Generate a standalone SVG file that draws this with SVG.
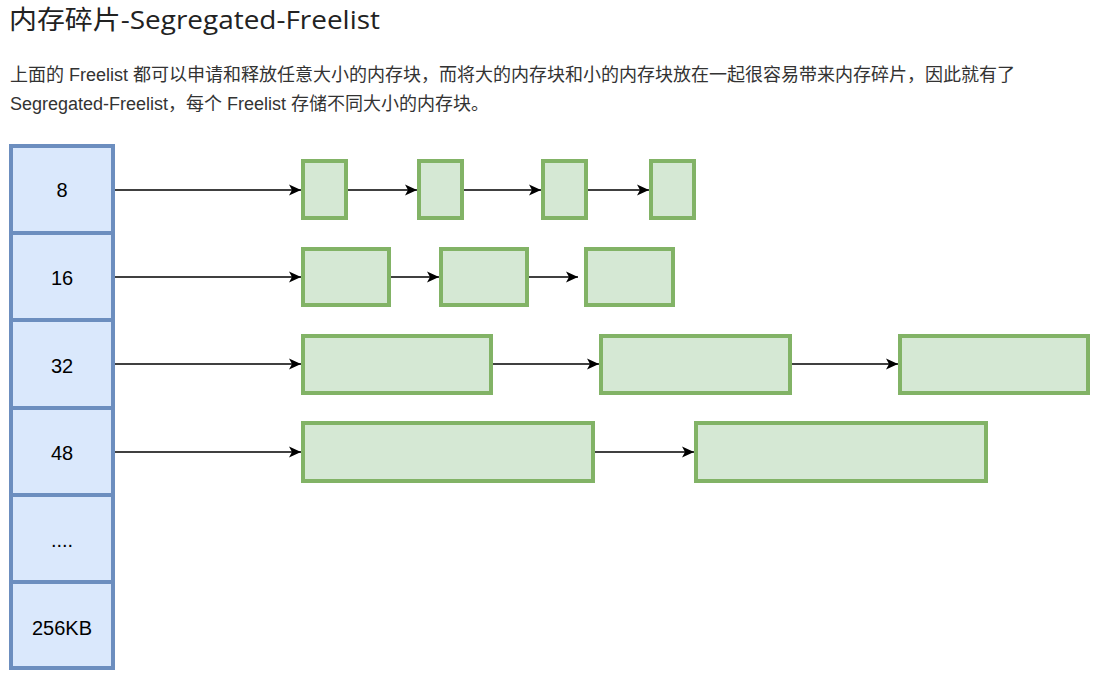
<svg xmlns="http://www.w3.org/2000/svg" width="1102" height="675" viewBox="0 0 1102 675">
<defs>
<style>
.title{font-family:"Open Sans","Noto Sans CJK SC",sans-serif;font-size:26px;fill:#222}
.para{font-family:"Liberation Sans","Noto Sans CJK SC",sans-serif;font-size:18px;fill:#333}
.cell{fill:#dae8fc;stroke:#6c8ebf;stroke-width:4}
.blk{fill:#d5e8d4;stroke:#82b366;stroke-width:4}
.lbl{font-family:"Liberation Sans",Arial,sans-serif;font-size:20px;fill:#000;text-anchor:middle;dominant-baseline:central}
.edge{stroke:#000;stroke-width:1.5;fill:none;marker-end:url(#arr)}
</style>
<marker id="arr" markerUnits="userSpaceOnUse" markerWidth="14" markerHeight="14" refX="12" refY="6" orient="auto">
<path d="M0,0.5 L12,6 L0,11.5 L3,6 Z" fill="#000"/>
</marker>
</defs>
<rect width="1102" height="675" fill="#fff"/>
<text class="title" x="9" y="29" textLength="371" lengthAdjust="spacingAndGlyphs">内存碎片-Segregated-Freelist</text>
<text class="para" x="10" y="81">上面的 Freelist 都可以申请和释放任意大小的内存块，而将大的内存块和小的内存块放在一起很容易带来内存碎片，因此就有了</text>
<text class="para" x="10" y="110">Segregated-Freelist，每个 Freelist 存储不同大小的内存块。</text>

<g id="cell-8"><rect class="cell" x="11" y="146" width="102" height="87"/><text class="lbl" x="62" y="190">8</text></g>
<g id="cell-16"><rect class="cell" x="11" y="233" width="102" height="87"/><text class="lbl" x="62" y="278">16</text></g>
<g id="cell-32"><rect class="cell" x="11" y="320" width="102" height="88"/><text class="lbl" x="62" y="366">32</text></g>
<g id="cell-48"><rect class="cell" x="11" y="408" width="102" height="87"/><text class="lbl" x="62" y="453">48</text></g>
<g id="cell-dots"><rect class="cell" x="11" y="495" width="102" height="87"/><text class="lbl" x="62" y="540">....</text></g>
<g id="cell-256kb"><rect class="cell" x="11" y="582" width="102" height="86"/><text class="lbl" x="62" y="628">256KB</text></g>

<g id="r1b1"><rect class="blk" x="303" y="161" width="43" height="57"/></g>
<g id="r1b2"><rect class="blk" x="419" y="161" width="43" height="57"/></g>
<g id="r1b3"><rect class="blk" x="543" y="161" width="43" height="57"/></g>
<g id="r1b4"><rect class="blk" x="651" y="161" width="43" height="57"/></g>

<g id="r2b1"><rect class="blk" x="303" y="249" width="86" height="56"/></g>
<g id="r2b2"><rect class="blk" x="441" y="249" width="86" height="56"/></g>
<g id="r2b3"><rect class="blk" x="586" y="249" width="87" height="56"/></g>

<g id="r3b1"><rect class="blk" x="303" y="336" width="188" height="57"/></g>
<g id="r3b2"><rect class="blk" x="601" y="336" width="189" height="57"/></g>
<g id="r3b3"><rect class="blk" x="900" y="336" width="188" height="57"/></g>

<g id="r4b1"><rect class="blk" x="303" y="423" width="290" height="58"/></g>
<g id="r4b2"><rect class="blk" x="696" y="423" width="290" height="58"/></g>

<g id="connectors">
<line class="edge" x1="115" y1="190" x2="301" y2="190"/>
<line class="edge" x1="348" y1="190" x2="417" y2="190"/>
<line class="edge" x1="464" y1="190" x2="541" y2="190"/>
<line class="edge" x1="588" y1="190" x2="649" y2="190"/>
<line class="edge" x1="115" y1="277" x2="301" y2="277"/>
<line class="edge" x1="391" y1="277" x2="439" y2="277"/>
<line class="edge" x1="529" y1="277" x2="578" y2="277"/>
<line class="edge" x1="115" y1="364" x2="301" y2="364"/>
<line class="edge" x1="493" y1="364" x2="599" y2="364"/>
<line class="edge" x1="792" y1="364" x2="898" y2="364"/>
<line class="edge" x1="115" y1="452" x2="301" y2="452"/>
<line class="edge" x1="595" y1="452" x2="694" y2="452"/>
</g>
</svg>
